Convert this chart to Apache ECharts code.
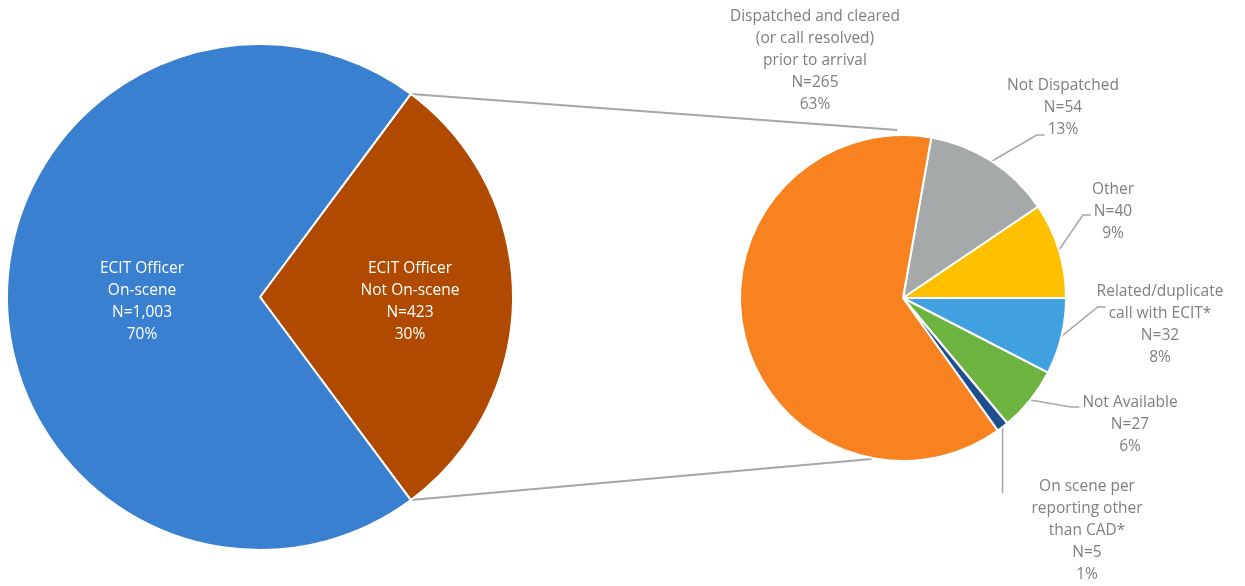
<!DOCTYPE html>
<html>
<head>
<meta charset="utf-8">
<script src="https://cdn.jsdelivr.net/npm/echarts@6/dist/echarts.min.js"></script>
<style>
  html, body { margin: 0; padding: 0; background: #fff; }
  #main { width: 1245px; height: 586px; }
</style>
</head>
<body>
<div id="main"></div>
<script>
// left pie: ECIT officer on-scene or not
var mainNames = ['ECIT Officer\nNot On-scene', 'ECIT Officer\nOn-scene'];
var mainCounts = [423, 1003];
var mainPct = ['30%', '70%'];

// right pie: breakdown of "not on-scene"
var subNames = ['Not Dispatched', 'Other', 'Related/duplicate\ncall with ECIT*', 'Not Available',
  'On scene per\nreporting other\nthan CAD*', 'Dispatched and cleared\n(or call resolved)\nprior to arrival'];
var subCounts = [54, 40, 32, 27, 5, 265];
var subPct = ['13%', '9%', '8%', '6%', '1%', '63%'];

var mainColors = ['#b04a00', '#3a80d0'];
var subColors = ['#a5a9aa', '#ffc000', '#41a0e0', '#6db33f', '#1f4e8c', '#f8821f'];

// label anchor spots and leader hook (layout only)
var mainLabelPos = [[410, 302], [142, 302]];
var subLabelPos = [[1063, 108], [1113, 212], [1160, 325], [1130, 425], [1087, 531], [815, 61]];
var subHook = [[2, 5, 'h'], [1, 3, 'h'], [1, -7, 'h'], [0, 4, 'h'], [0, 6, 'v'], null];

var FS = 15.5, LH = 22, FONT = 'Open Sans';
var c1 = [260, 297], r1 = 253;
var c2 = [903, 298], r2 = 163;

function fmt(n) { return n.toString().replace(/\B(?=(\d{3})+(?!\d))/g, ','); }

var mainTotal = mainCounts.reduce(function (a, b) { return a + b; }, 0);
var startMain = mainCounts[0] / mainTotal * 180; // brown slice centred on the right
var subTotal = subCounts.reduce(function (a, b) { return a + b; }, 0);
var startSub = (subCounts[0] + subCounts[1]) / subTotal * 360;

function pt(c, r, deg) {
  var a = deg * Math.PI / 180;
  return [c[0] + r * Math.cos(a), c[1] - r * Math.sin(a)];
}
var pTopL = pt(c1, r1, startMain), pBotL = pt(c1, r1, -startMain);
var pTopR = pt(c2, r2 + 5, 92), pBotR = pt(c2, r2 + 1, -101);

var ctx = document.createElement('canvas').getContext('2d');
ctx.font = FS + 'px "' + FONT + '"';

function subText(i) { return subNames[i] + '\nN=' + fmt(subCounts[i]) + '\n' + subPct[i]; }

function subMidAngle(i) {
  var cum = 0;
  for (var k = 0; k < i; k++) cum += subCounts[k];
  return startSub - (cum + subCounts[i] / 2) / subTotal * 360;
}

var chart = echarts.init(document.getElementById('main'));
chart.setOption({
  backgroundColor: '#fff',
  animation: false,
  textStyle: { fontFamily: FONT },
  graphic: [
    { type: 'line', shape: { x1: pTopL[0], y1: pTopL[1], x2: pTopR[0], y2: pTopR[1] },
      style: { stroke: '#a6a6a6', lineWidth: 2 }, z: 1 },
    { type: 'line', shape: { x1: pBotL[0], y1: pBotL[1], x2: pBotR[0], y2: pBotR[1] },
      style: { stroke: '#a6a6a6', lineWidth: 2 }, z: 1 }
  ],
  series: [
    {
      type: 'pie',
      center: c1,
      radius: r1,
      startAngle: startMain,
      clockwise: true,
      itemStyle: { borderColor: '#fff', borderWidth: 2 },
      label: {
        show: true, position: 'inside', color: '#fff', fontSize: FS, lineHeight: LH,
        fontFamily: FONT, align: 'center',
        formatter: function (p) { return p.name + '\nN=' + fmt(p.value) + '\n' + mainPct[p.dataIndex]; }
      },
      labelLayout: function (p) {
        var q = mainLabelPos[p.dataIndex];
        return { x: q[0], y: q[1], align: 'center', verticalAlign: 'middle' };
      },
      data: mainCounts.map(function (v, i) {
        return { name: mainNames[i], value: v, itemStyle: { color: mainColors[i] } };
      })
    },
    {
      type: 'pie',
      center: c2,
      radius: r2,
      startAngle: startSub,
      clockwise: true,
      itemStyle: { borderColor: '#fff', borderWidth: 2 },
      label: {
        show: true, position: 'outside', color: '#7f7f7f', fontSize: FS, lineHeight: LH,
        fontFamily: FONT, align: 'center', overflow: 'none', edgeDistance: 0,
        formatter: function (p) { return subText(p.dataIndex); }
      },
      labelLine: { show: true, lineStyle: { color: '#a6a6a6', width: 1.5 } },
      labelLayout: function (p) {
        var i = p.dataIndex;
        var q = subLabelPos[i];
        var res = { x: q[0], y: q[1], align: 'center', verticalAlign: 'middle' };
        var hook = subHook[i];
        if (hook) {
          var lines = subText(i).split('\n');
          var top = q[1] - lines.length * LH / 2;
          var ly = top + LH / 2 + hook[0] * LH + hook[1];
          var left = q[0] - ctx.measureText(lines[hook[0]]).width / 2;
          var s = pt(c2, r2, subMidAngle(i));
          if (hook[2] === 'v') {
            res.labelLinePoints = [s, [s[0], (s[1] + ly) / 2], [s[0], ly]];
          } else {
            res.labelLinePoints = [s, [left - 11, ly], [left - 3, ly]];
          }
        }
        return res;
      },
      data: subCounts.map(function (v, i) {
        return {
          name: subNames[i], value: v, itemStyle: { color: subColors[i] },
          labelLine: { show: i !== subCounts.length - 1 }
        };
      })
    }
  ]
});
</script>
</body>
</html>
